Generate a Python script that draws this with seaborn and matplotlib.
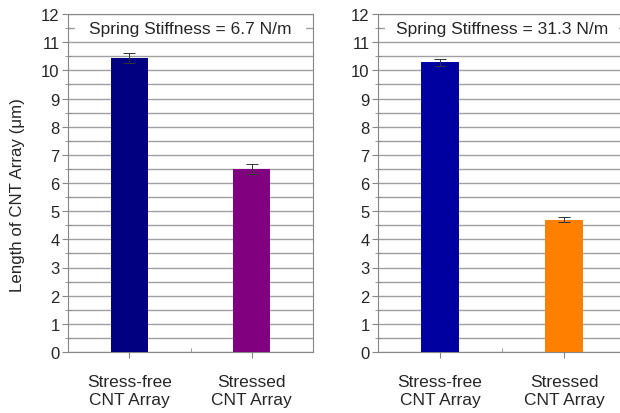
import matplotlib
matplotlib.use("Agg")
import matplotlib.pyplot as plt
import matplotlib.transforms as mtransforms
import seaborn as sns
import pandas as pd
from matplotlib.ticker import MultipleLocator, FixedLocator
from matplotlib.patches import Rectangle

sns.set_style("white")
plt.rcParams["font.family"] = ["Liberation Sans", "DejaVu Sans"]

# Data
categories = ["Stress-free\nCNT Array", "Stressed\nCNT Array"]
stiffness_titles = ["Spring Stiffness = 6.7 N/m", "Spring Stiffness = 31.3 N/m"]
soft_lengths = [10.45, 6.5]
soft_errors = [0.18, 0.18]
stiff_lengths = [10.28, 4.7]
stiff_errors = [0.13, 0.1]
soft_colors = ["#000080", "#800080"]
stiff_colors = ["#0000A0", "#FF8000"]
y_ticks = list(range(0, 13))
y_label = "Length of CNT Array (\u03bcm)"

panels = [
    (soft_lengths, soft_errors, soft_colors, stiffness_titles[0]),
    (stiff_lengths, stiff_errors, stiff_colors, stiffness_titles[1]),
]

fig = plt.figure(figsize=(6.2, 4.14), dpi=100)
W, H = 620, 414
boxes = [(68, 15, 245, 338), (378, 15, 248, 338)]

grid_c = "#A0A0A0"
spine_c = "#868686"

for i, ((vals, errs, cols, title), (x0, y0, w, h)) in enumerate(zip(panels, boxes)):
    ax = fig.add_axes([x0 / W, 1 - (y0 + h) / H, w / W, h / H])
    df = pd.DataFrame({"cat": categories, "val": vals})
    sns.barplot(data=df, x="cat", y="val", hue="cat", palette=cols,
                legend=False, width=0.3, errorbar=None, ax=ax,
                saturation=1, edgecolor="none", zorder=3)
    ax.errorbar(range(len(vals)), vals, yerr=errs, fmt="none",
                ecolor="#333333", elinewidth=0.7, capsize=4.3,
                capthick=0.7, zorder=4)
    ax.set_xlim(-0.5, 1.5)
    ax.set_ylim(0, 12)
    ax.yaxis.set_major_locator(FixedLocator(y_ticks))
    ax.yaxis.set_minor_locator(MultipleLocator(0.5))
    ax.xaxis.set_minor_locator(FixedLocator([-0.5, 0.5, 1.5]))
    ax.grid(which="both", axis="y", color=grid_c, linewidth=1.0, zorder=0)
    ax.set_axisbelow(True)
    for s in ax.spines.values():
        s.set_color(spine_c)
        s.set_linewidth(0.8)
    ax.tick_params(axis="y", which="major", direction="out", length=4,
                   color=spine_c, labelsize=12, pad=2, left=True)
    ax.tick_params(axis="y", which="minor", direction="inout", length=4,
                   color=spine_c, left=True)
    ax.tick_params(axis="x", which="major", direction="out", length=4.5,
                   color=spine_c, labelsize=12.5, pad=11, bottom=True)
    ax.tick_params(axis="x", which="minor", direction="in", length=3,
                   color=spine_c, bottom=True)
    ax.set_xlabel("")
    if i == 0:
        ax.set_ylabel(y_label, fontsize=12.2)
        ax.yaxis.set_label_coords(-0.176, 0.467)
    else:
        ax.set_ylabel("")
    blend = mtransforms.blended_transform_factory(ax.transAxes, ax.transData)
    # white band behind the panel caption
    ax.add_patch(Rectangle((0.03, 11.1), 0.94, 0.8, transform=blend,
                           facecolor="white", edgecolor="none", zorder=1))
    ax.text(0.5, 11.5, title, transform=blend,
            ha="center", va="center", fontsize=12.5, zorder=5)
    for lbl in ax.get_xticklabels():
        lbl.set_linespacing(1.3)

fig.savefig("out.png", dpi=100)
